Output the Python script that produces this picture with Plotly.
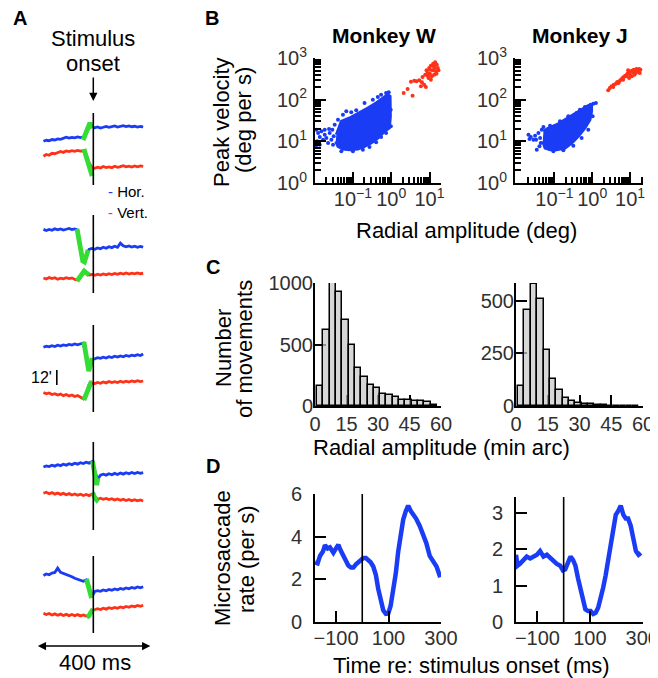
import plotly.graph_objects as go

# The page places the figure 8 px from the top-left corner of the 658x678 window,
# so the figure is 650x670 and all reference pixel positions are shifted by 8.
WIN_W, WIN_H = 658, 678
OFF = 8
W, H = WIN_W - OFF, WIN_H - OFF
FONT = "Liberation Sans, Arial, Helvetica, sans-serif"
BLUE = "#1b3cf5"
RED = "#ff3218"
GREEN = "#33dd33"
TICKC = "#303030"

# ---------------- Panel A: eye traces (arcmin, relative to each trial's centre) -------------
t_ms = [-175, -165, -155, -145, -135, -125, -115, -105, -95, -85, -75, -65, -55, -45, -35, -25, -15, -5,
        5, 15, 25, 35, 45, 55, 65, 75, 85, 95, 105, 115, 125, 135, 145, 155, 165, 175]

hor_1 = [7.0, 7.8, 7.4, 8.4, 8.0, 8.9, 8.5, 9.6, 10.2, 9.5, 10.1, 9.7, 10.4, 9.9, 10.3, 13.0, 18.5, 19.0,
         17.8, 18.4, 17.6, 18.2, 18.9, 18.1, 18.6, 19.2, 18.4, 18.9, 19.5, 18.7, 19.3, 18.6, 19.0, 18.3, 18.8, 18.5]
vert_1 = [-5.0, -3.6, -4.2, -2.6, -3.0, -1.8, -1.2, -1.9, -0.8, -1.3, -0.5, -1.1, -0.3, -0.9, -0.6, -4.0, -10.0, -14.0,
          -14.6, -13.8, -14.4, -13.2, -14.0, -13.5, -14.2, -13.0, -13.8, -13.3, -12.6, -13.5, -12.9, -13.6, -12.8, -13.4, -12.7, -13.1]
sac1_h_t = [-36, -30, -24, -18, -12, -7, -3]
sac1_h = [8, 11.2, 15.2, 19.2, 21.6, 19.2, 17.6]
sac1_v_t = [-33, -26, -19, -13, -8, -4]
sac1_v = [0.8, -4, -8.8, -14.4, -19.2, -20.8]

hor_2 = [20.5, 19.6, 20.4, 19.8, 21.0, 20.1, 20.8, 19.9, 20.6, 21.2, 20.3, 20.9, 20.0, 5, -5, -1, 4.5,
         5.2, 4.6, 5.6, 5.0, 6.2, 5.4, 6.6, 5.9, 7.0, 6.2, 9.5, 7.4, 6.5, 7.2, 6.4, 7.0, 6.1, 6.9, 6.3]
vert_2 = [-18.4, -19.2, -18.0, -18.9, -18.2, -19.4, -18.5, -19.1, -18.1, -18.9, -18.3, -19.5, -20.0, -17.5, -13, -14, -16,
          -15.6, -16.2, -15.4, -16.0, -15.1, -15.8, -14.9, -15.6, -14.7, -15.5, -14.6, -15.3, -14.4, -15.2, -14.5, -15.1, -14.3, -15.0, -14.6]
sac2_h_t = [-57, -50, -43, -37, -31, -24, -18]
sac2_h = [20.8, 12, 2.4, -4.8, -5.6, 0, 4]
sac2_v_t = [-57, -48, -40, -32, -24, -15]
sac2_v = [-20.8, -18.4, -15.2, -12.8, -14.4, -16]

hor_3 = [18.2, 19.0, 18.5, 19.4, 18.8, 19.8, 19.2, 20.1, 19.5, 20.4, 19.9, 20.8, 20.2, 21.2, 21.6, 10, 0, 8,
         9.0, 9.8, 9.3, 10.2, 9.6, 10.6, 10.0, 11.0, 10.3, 11.2, 10.6, 11.6, 11.0, 11.9, 11.3, 12.3, 11.6, 12.8]
vert_3 = [-18.0, -19.0, -18.4, -19.6, -18.9, -20.0, -19.3, -20.5, -19.6, -20.8, -20.0, -21.2, -20.4, -21.5, -23, -19, -12, -10.5,
          -10.8, -9.9, -10.6, -9.6, -10.3, -9.2, -10.1, -9.4, -10.0, -9.0, -9.8, -8.9, -9.6, -8.8, -9.5, -8.6, -9.3, -8.8]
sac3_h_t = [-33, -27, -21, -16, -10, -4]
sac3_h = [22.4, 14.4, 5.6, -0.8, 4, 9.6]
sac3_v_t = [-33, -27, -21, -15, -9, -4]
sac3_v = [-24, -20.8, -16, -12, -10.4, -10.4]

hor_4 = [12.0, 12.9, 12.3, 13.4, 12.7, 13.8, 13.1, 14.2, 13.5, 14.6, 13.9, 15.0, 14.3, 15.4, 14.8, 15.8, 15.1, 16.2,
         9, 2, 5.4, 6.2, 5.5, 6.6, 5.8, 6.9, 6.0, 7.2, 6.3, 7.4, 6.6, 7.6, 6.8, 7.7, 6.9, 7.5]
vert_4 = [-9.0, -8.2, -9.4, -8.5, -9.7, -8.8, -9.9, -9.1, -10.2, -9.3, -10.4, -9.6, -10.6, -9.8, -10.8, -10.0, -10.9, -9.8,
          -12, -13.8, -13.0, -13.9, -13.2, -14.1, -13.4, -14.4, -13.6, -14.6, -13.8, -14.8, -14.0, -15.0, -14.2, -15.1, -14.4, -15.2]
sac4_h_t = [-3, 0, 4, 8, 12, 16]
sac4_h = [16.8, 13.6, 8, 2.4, -2.4, 3.2]
sac4_v_t = [-4, 0, 4, 8, 12, 15]
sac4_v = [-8.8, -9.6, -12, -13.6, -14.4, -13.6]

hor_5 = [15.6, 16.8, 16.2, 17.6, 18.0, 21.5, 18.2, 17.4, 16.6, 15.3, 14.6, 13.4, 12.8, 11.6, 11.0, 12.0, 4, -1.5,
         2.8, 3.5, 3.0, 4.0, 3.4, 4.5, 3.8, 4.9, 4.2, 5.3, 4.6, 5.7, 5.0, 6.0, 5.4, 6.4, 5.7, 6.6]
vert_5 = [-14.6, -15.6, -14.8, -16.0, -15.1, -16.2, -15.3, -16.4, -15.5, -16.5, -15.6, -16.6, -15.7, -16.7, -15.9, -16.9, -16.5, -12.5,
          -11.8, -11.0, -11.6, -10.6, -11.3, -10.2, -10.9, -9.9, -10.6, -9.5, -10.2, -9.1, -9.8, -8.7, -9.4, -8.3, -9.0, -8.2]
sac5_h_t = [-24, -20, -15, -10, -6]
sac5_h = [12.8, 8.8, 4, 0, -2.4]
sac5_v_t = [-23, -16, -10, -5, -1]
sac5_v = [-17.6, -16.8, -14.4, -12.8, -11.2]

# layout of panel A (stacking of the trials, arcmin)
trial_offsets = [392, 308, 216, 126.4, 36]
vline_top = [29.6, 32, 36, 32, 31.2]
vline_bot = [-28, -30.4, -33.6, -38.4, -30.4]

# ---------------- Panel B: main sequence (log10 values) ----------------
w_core_logamp = [-1.433, -1.303, -1.087, -0.827, -0.61, -0.394, -0.22, -0.091, -0.03, -0.022, -0.048, -0.177,
                 -0.35, -0.524, -0.697, -0.87, -1.087, -1.26, -1.39, -1.45]
w_core_logvel = [1.16, 1.48, 1.56, 1.68, 1.8, 1.92, 2.04, 2.12, 2.08, 1.6, 1.32, 1.24,
                 1.08, 0.96, 0.88, 0.816, 0.8, 0.816, 0.88, 1.0]
w_blue_logamp = [-1.952, -1.909, -1.866, -1.935, -1.823, -1.779, -1.736, -1.693, -1.649, -1.606, -1.563, -1.519,
                 -1.97, -1.736, -1.866, -1.623, -1.502, -1.537, -1.364, -1.346,
                 -1.26, -1.173, -0.913, -0.697, -0.48, -0.35, -0.264, -0.134, -0.065, -1.476, -1.39, -1.043,
                 -1.303, -1.0, -0.74, -0.567, -0.394, -0.264, -0.134, -0.01, -0.013]
w_blue_logvel = [1.28, 1.2, 1.104, 1.0, 1.24, 1.04, 1.16, 1.08, 0.96, 1.2, 1.04, 0.92,
                 0.88, 1.28, 0.92, 1.296, 1.12, 1.28, 1.04, 1.24,
                 1.64, 1.72, 1.744, 1.92, 2.0, 2.064, 2.12, 2.16, 2.176, 1.4, 1.52, 1.696,
                 0.76, 0.76, 0.8, 0.864, 0.976, 1.104, 1.2, 1.36, 1.76]
w_red_logamp = [0.325, 0.429, 0.558, 0.515, 0.602, 0.662, 0.732, 0.801, 0.861, 0.775, 0.905, 0.818, 0.887, 0.948,
                0.922, 0.991, 1.035, 1.095, 1.147, 1.19, 1.216, 1.165, 1.121, 1.061, 1.009, 1.078, 1.13, 1.182,
                0.974, 1.035, 1.234, 1.113, 1.009, 0.957]
w_red_logvel = [2.16, 2.256, 2.096, 2.432, 2.456, 2.44, 2.464, 2.416, 2.36, 2.32, 2.304, 2.544, 2.6, 2.64,
                2.704, 2.76, 2.816, 2.864, 2.896, 2.84, 2.76, 2.68, 2.6, 2.56, 2.624, 2.704, 2.76, 2.624,
                2.52, 2.48, 2.704, 2.8, 2.72, 2.576]

j_core_logamp = [-1.289, -1.158, -0.939, -0.719, -0.5, -0.281, -0.105, -0.018, -0.018, -0.061, -0.193, -0.368,
                 -0.544, -0.719, -0.939, -1.114, -1.246, -1.307]
j_core_logvel = [1.24, 1.32, 1.4, 1.52, 1.64, 1.76, 1.856, 1.84, 1.72, 1.52, 1.32, 1.12,
                 0.96, 0.84, 0.8, 0.8, 0.84, 1.0]
j_blue_logamp = [-1.684, -1.658, -1.623, -1.509, -1.482, -1.421, -1.377, -1.36, -1.465, -1.333, -1.553, -1.395, -1.289,
                 -1.114, -0.851, -0.632, -0.412, -0.325, -0.193, -0.044, 0.026, 0.096,
                 -1.026, -0.763, -0.5, -0.281, -0.105, 0.009]
j_blue_logvel = [1.16, 1.056, 1.104, 1.136, 1.04, 1.2, 1.08, 0.96, 0.8, 1.28, 1.04, 0.88, 1.344,
                 1.376, 1.48, 1.6, 1.68, 1.76, 1.824, 1.88, 1.904, 1.92,
                 0.76, 0.784, 0.896, 1.08, 1.28, 1.6]
j_red_logamp = [0.421, 0.465, 0.509, 0.57, 0.623, 0.658, 0.711, 0.754, 0.798, 0.833, 0.868, 0.904, 0.921, 0.956,
                0.991, 1.009, 1.044, 1.079, 1.096, 1.132, 1.149, 1.167, 1.202, 1.237, 1.219, 1.114, 1.044, 0.974,
                0.947, 0.816, 0.553, 0.693, 1.272, 1.254]
j_red_logvel = [2.224, 2.28, 2.32, 2.36, 2.384, 2.424, 2.44, 2.48, 2.52, 2.544, 2.576, 2.56, 2.616, 2.64,
                2.608, 2.672, 2.696, 2.656, 2.72, 2.704, 2.64, 2.736, 2.72, 2.736, 2.672, 2.6, 2.56, 2.52,
                2.704, 2.48, 2.304, 2.4, 2.72, 2.64]

# ---------------- Panel C: amplitude histograms (min arc) ----------------
bin_centers = [2.5, 5.5, 8.5, 11.5, 14.5, 17.5, 20.5, 23.5, 26.5, 29.5, 32.5, 35.5, 38.5, 41.5, 44.5, 47.5, 50.5, 53.5, 56.5]
counts_w = [164, 616, 1016, 926, 704, 496, 310, 233, 173, 145, 96, 90, 71, 47, 47, 44, 41, 36, 8]
counts_j = [94, 458, 580, 508, 267, 127, 75, 36, 23, 12, 8, 8, 5, 3, 2, 2, 2, 1, 1]

# ---------------- Panel D: microsaccade rate ----------------
time_w = [-180, -170, -161, -150, -142, -132, -123, -115, -110, -100, -91, -82, -72, -62, -53, -43, -34, -24, -15, -5,
          4, 14, 23, 32, 42, 52, 61, 70, 80, 90, 99, 108, 118, 128, 137, 147, 156, 166, 175, 185, 194, 205,
          219, 232, 244, 257, 270, 283, 297]
rate_w = [2.8, 2.75, 3.1, 3.3, 3.6, 3.45, 3.5, 3.3, 3.25, 3.45, 3.62, 3.35, 3.1, 2.85, 2.65, 2.55, 2.55, 2.7, 2.8, 2.85,
          3.0, 3.0, 2.92, 2.8, 2.6, 2.2, 1.55, 1.0, 0.55, 0.38, 0.4, 0.75, 1.4, 2.3, 3.3, 4.1, 4.8, 5.2, 5.45, 5.2, 5.05, 4.85,
          4.5, 4.1, 3.7, 3.1, 2.85, 2.6, 2.1]
time_j = [-182, -176, -167, -155, -141, -128, -115, -102, -90, -77, -64, -51, -38, -26, -13, -3, 6, 16, 26, 36, 45,
          55, 64, 74, 83, 93, 103, 113, 122, 132, 141, 151, 160, 170, 179, 189, 199, 208, 218, 228, 237, 246, 256,
          266, 276, 286, 295]
rate_j = [1.85, 1.55, 1.6, 1.7, 1.8, 1.75, 1.8, 1.85, 1.95, 1.8, 1.85, 1.75, 1.68, 1.6, 1.55, 1.42, 1.45, 1.6, 1.8, 1.7, 1.55,
          1.2, 0.9, 0.55, 0.35, 0.3, 0.3, 0.22, 0.25, 0.4, 0.62, 0.95, 1.27, 1.7, 2.2, 2.65, 2.95, 3.05, 3.2, 2.95, 2.85, 2.85, 2.65,
          2.3, 1.95, 1.85, 1.9]


def px(x):
    return (x - OFF) / W


def py(y):
    return 1 - (y - OFF) / H


def xd(a, b):
    return [px(a), px(b)]


def yd(top, bot):
    return [py(bot), py(top)]


fig = go.Figure()

# ---- Panel A traces
trials = [
    (hor_1, vert_1, sac1_h_t, sac1_h, sac1_v_t, sac1_v),
    (hor_2, vert_2, sac2_h_t, sac2_h, sac2_v_t, sac2_v),
    (hor_3, vert_3, sac3_h_t, sac3_h, sac3_v_t, sac3_v),
    (hor_4, vert_4, sac4_h_t, sac4_h, sac4_v_t, sac4_v),
    (hor_5, vert_5, sac5_h_t, sac5_h, sac5_v_t, sac5_v),
]
shapes = []
for k, (h, v, sht, sh, svt, sv) in enumerate(trials):
    off = trial_offsets[k]
    fig.add_trace(go.Scatter(x=t_ms, y=[off + a for a in h], mode="lines",
                             line=dict(color=BLUE, width=2.8), xaxis="x", yaxis="y", showlegend=False))
    fig.add_trace(go.Scatter(x=t_ms, y=[off + a for a in v], mode="lines",
                             line=dict(color=RED, width=2.8), xaxis="x", yaxis="y", showlegend=False))
    fig.add_trace(go.Scatter(x=sht, y=[off + a for a in sh], mode="lines",
                             line=dict(color=GREEN, width=4.8), xaxis="x", yaxis="y", showlegend=False))
    fig.add_trace(go.Scatter(x=svt, y=[off + a for a in sv], mode="lines",
                             line=dict(color=GREEN, width=4.8), xaxis="x", yaxis="y", showlegend=False))
    shapes.append(dict(type="line", xref="x", yref="y", x0=0, x1=0,
                       y0=off + vline_bot[k], y1=off + vline_top[k], line=dict(color="black", width=1.6)))

# 12' scale bar (trial 3)
shapes.append(dict(type="line", xref="x", yref="y", x0=-128, x1=-128,
                   y0=trial_offsets[2], y1=trial_offsets[2] - 12, line=dict(color="black", width=1.6)))

# ---- Panel B scatter
def pw(lst):
    return [10 ** v for v in lst]


for (ca, cv, ba, bv, ra, rv, xa, ya) in [
    (w_core_logamp, w_core_logvel, w_blue_logamp, w_blue_logvel, w_red_logamp, w_red_logvel, "x2", "y2"),
    (j_core_logamp, j_core_logvel, j_blue_logamp, j_blue_logvel, j_red_logamp, j_red_logvel, "x3", "y3"),
]:
    fig.add_trace(go.Scatter(x=pw(ca), y=pw(cv), mode="lines", fill="toself", fillcolor=BLUE,
                             line=dict(color=BLUE, width=3), xaxis=xa, yaxis=ya, showlegend=False))
    fig.add_trace(go.Scatter(x=pw(ba), y=pw(bv), mode="markers",
                             marker=dict(color=BLUE, size=4), xaxis=xa, yaxis=ya, showlegend=False))
    fig.add_trace(go.Scatter(x=pw(ra), y=pw(rv), mode="markers",
                             marker=dict(color=RED, size=4), xaxis=xa, yaxis=ya, showlegend=False))

# ---- Panel C histograms
for cnt, xa, ya in [(counts_w, "x4", "y4"), (counts_j, "x5", "y5")]:
    fig.add_trace(go.Bar(x=bin_centers, y=cnt, width=3,
                         marker=dict(color="rgba(200,200,200,0.72)", line=dict(color="black", width=1.5)),
                         xaxis=xa, yaxis=ya, showlegend=False))

# ---- Panel D rates
fig.add_trace(go.Scatter(x=time_w, y=rate_w, mode="lines", line=dict(color=BLUE, width=4.5),
                         xaxis="x6", yaxis="y6", showlegend=False))
fig.add_trace(go.Scatter(x=time_j, y=rate_j, mode="lines", line=dict(color=BLUE, width=4.5),
                         xaxis="x7", yaxis="y7", showlegend=False))
shapes.append(dict(type="line", xref="x6", yref="y6 domain", x0=0, x1=0, y0=0, y1=1,
                   line=dict(color="black", width=1.6)))
shapes.append(dict(type="line", xref="x7", yref="y7 domain", x0=0, x1=0, y0=0, y1=1,
                   line=dict(color="black", width=1.6)))

# ---- Axes
base = dict(showline=True, linecolor="black", linewidth=2, ticks="inside", ticklen=11, tickwidth=2,
            tickcolor="black", showgrid=False, zeroline=False, automargin=False, ticklabeloverflow="allow",
            tickfont=dict(family=FONT, size=20, color=TICKC))

x_minor_log = [0.02, 0.03, 0.04, 0.05, 0.06, 0.07, 0.08, 0.09, 0.2, 0.3, 0.4, 0.5, 0.6, 0.7, 0.8, 0.9,
               2, 3, 4, 5, 6, 7, 8, 9, 20]
y_minor_log = [2, 3, 4, 5, 6, 7, 8, 9, 20, 30, 40, 50, 60, 70, 80, 90, 200, 300, 400, 500, 600, 700, 800, 900]

logx = dict(base, type="log", tickvals=[0.1, 1, 10],
            ticktext=["10<sup>\u22121</sup>", "10<sup>0</sup>", "10<sup>1</sup>"],
            minor=dict(tickvals=x_minor_log, ticks="inside", ticklen=6, tickwidth=1.5, tickcolor="black"),
            ticklabelstandoff=-3)
logy = dict(base, type="log", range=[0, 3], tickvals=[1, 10, 100, 1000],
            ticktext=["10<sup>0</sup>", "10<sup>1</sup>", "10<sup>2</sup>", "10<sup>3</sup>"],
            minor=dict(tickvals=y_minor_log, ticks="inside", ticklen=6, tickwidth=1.5, tickcolor="black"),
            ticklabelstandoff=2)

fig.update_layout(
    width=W, height=H, margin=dict(l=0, r=0, t=0, b=0, pad=0, autoexpand=False), autosize=False,
    paper_bgcolor="white", plot_bgcolor="rgba(0,0,0,0)", showlegend=False, bargap=0,
    font=dict(family=FONT, color="black"),
    xaxis=dict(domain=xd(20, 160), range=[-257.2, 234.0], visible=False, anchor="y"),
    yaxis=dict(domain=yd(100, 670), range=[-24, 432], visible=False, anchor="x"),
    xaxis2=dict(logx, domain=xd(315, 441), range=[-1.99, 1.30], anchor="y2"),
    yaxis2=dict(logy, domain=yd(58, 183), anchor="x2"),
    xaxis3=dict(logx, domain=xd(515, 643), range=[-2.04, 1.34], anchor="y3"),
    yaxis3=dict(logy, domain=yd(58, 183), anchor="x3"),
    xaxis4=dict(base, domain=xd(315, 441), range=[0, 60], tickvals=[0, 15, 30, 45, 60], anchor="y4",
                layer="below traces", ticklabelstandoff=-1),
    yaxis4=dict(base, domain=yd(283, 406), range=[0, 1003], tickvals=[0, 500, 1000], anchor="x4",
                layer="below traces", ticklabelstandoff=-4),
    xaxis5=dict(base, domain=xd(516, 643), range=[0, 60], tickvals=[0, 15, 30, 45, 60], anchor="y5",
                layer="below traces", ticklabelstandoff=-1),
    yaxis5=dict(base, domain=yd(283, 406), range=[0, 585], tickvals=[0, 250, 500], anchor="x5",
                layer="below traces", ticklabelstandoff=-4),
    xaxis6=dict(base, domain=xd(315, 441), range=[-180, 300], tickvals=[-100, 100, 300], anchor="y6",
                ticklabelstandoff=-3),
    yaxis6=dict(base, domain=yd(494, 622), range=[0, 6], tickvals=[0, 2, 4, 6], anchor="x6",
                ticklabelstandoff=7),
    xaxis7=dict(base, domain=xd(516, 643), range=[-182, 303], tickvals=[-100, 100, 300], anchor="y7",
                ticklabelstandoff=-3),
    yaxis7=dict(base, domain=yd(497, 622), range=[0, 3.44], tickvals=[0, 1, 2, 3], anchor="x7",
                ticklabelstandoff=7),
    shapes=shapes,
)

ann = []


def text(x, y, s, size=22, bold=False, angle=0, xanchor="center", color="black"):
    ann.append(dict(xref="paper", yref="paper", x=px(x), y=py(y), text=("<b>%s</b>" % s) if bold else s,
                    showarrow=False, textangle=angle, xanchor=xanchor, yanchor="middle",
                    font=dict(family=FONT, size=size, color=color)))


# panel letters
text(20, 18, "A", 20, True)
text(212, 18, "B", 20, True)
text(213, 267, "C", 20, True)
text(213, 466, "D", 20, True)

# panel A texts
text(93.3, 38, "Stimulus")
text(93.3, 64, "onset")
ann.append(dict(xref="paper", yref="paper", x=px(93.3), y=py(101), ax=0, ay=-25, text="",
                showarrow=True, arrowhead=2, arrowsize=1.1, arrowwidth=1.5, arrowcolor="black"))
text(106, 192, "<span style='color:%s'>-</span> Hor." % BLUE, 15, xanchor="left")
text(106, 212, "<span style='color:%s'>-</span> Vert." % RED, 15, xanchor="left")
ann.append(dict(xref="x", yref="y", x=-138, y=trial_offsets[2] - 6, text="12'", showarrow=False,
                xanchor="right", yanchor="middle", font=dict(family=FONT, size=16, color="black")))
ann.append(dict(xref="x", yref="y", x=200, y=-4.8, ax=-200, ay=-4.8, axref="x", ayref="y", text="",
                showarrow=True, arrowhead=2, startarrowhead=2, arrowside="end+start", arrowsize=1.1,
                startarrowsize=1.1, arrowwidth=1.5, arrowcolor="black"))
text(95, 662, "400 ms")

# panel B texts
text(384, 36, "Monkey W", 21, True)
text(580, 36, "Monkey J", 21, True)
text(222, 122, "Peak velocity", angle=-90)
text(244, 120, "(deg per s)", angle=-90)
text(466, 230, "Radial amplitude (deg)")

# panel C texts
text(223, 348, "Number", angle=-90)
text(244, 349, "of movements", angle=-90)
text(441, 447, "Radial amplitude (min arc)")

# panel D texts
text(222, 558, "Microsaccade", angle=-90)
text(246, 559, "rate (per s)", angle=-90)
text(472, 665, "Time re: stimulus onset (ms)")

fig.update_layout(annotations=ann)

fig.write_html("out.html")
